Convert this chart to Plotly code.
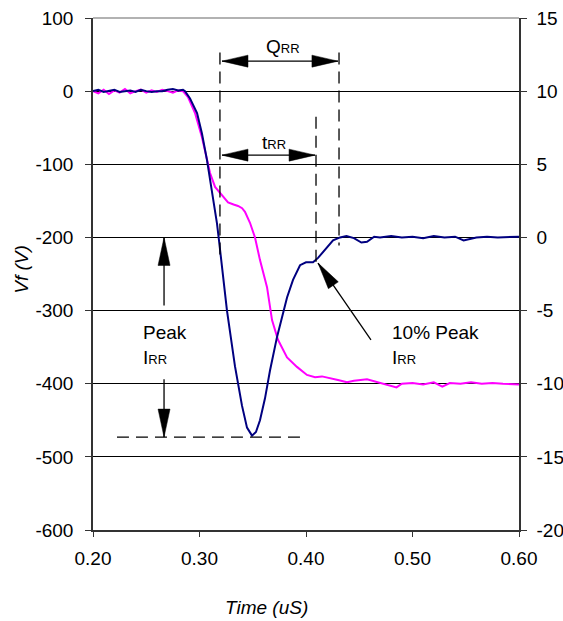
import plotly.graph_objects as go

# Reverse-recovery waveform
time_vf = [0.200, 0.205, 0.210, 0.215, 0.220, 0.225, 0.230, 0.235, 0.240, 0.245,
           0.250, 0.255, 0.260, 0.265, 0.270, 0.275, 0.280,
           0.2845, 0.2892, 0.2958, 0.3023, 0.3070, 0.3099, 0.3146, 0.3192, 0.3230, 0.3268,
           0.3320, 0.3362, 0.3400, 0.3427, 0.3474, 0.3521, 0.3568, 0.3634, 0.3681, 0.3737,
           0.3822, 0.3915, 0.4009, 0.4085, 0.4150, 0.4225, 0.4300, 0.4385, 0.4450, 0.4573,
           0.4650, 0.4789, 0.4850, 0.4900, 0.5000, 0.5100, 0.5200, 0.5280, 0.5350, 0.5450,
           0.5550, 0.5650, 0.5750, 0.5850, 0.6000]
vf = [0, -3, 2, -4, 1, -2, 3, -3, 0, 2,
      -2, 1, -1, 2, 0, -2, 1,
      0, -8, -30, -63, -94, -112, -131, -139, -146, -152,
      -155, -157, -160, -165, -180, -200, -231, -268, -313, -340,
      -364, -377, -388, -391, -390, -392, -395, -398, -396, -394,
      -397, -402, -405, -400, -399, -401, -398, -404, -399, -400,
      -398, -400, -399, -400, -401]

time_if = [0.200, 0.205, 0.210, 0.215, 0.220, 0.225, 0.230, 0.235, 0.240, 0.245,
           0.250, 0.255, 0.260, 0.265, 0.270, 0.275, 0.280,
           0.2845, 0.2864, 0.2911, 0.2977, 0.3023, 0.3070, 0.3117, 0.3164, 0.3183, 0.3258,
           0.3333, 0.3399, 0.3446, 0.3493, 0.3530, 0.3568, 0.3615, 0.3662, 0.3728, 0.3784,
           0.3822, 0.3878, 0.3944, 0.4000, 0.4066, 0.4113, 0.4160, 0.4210, 0.4254,
           0.4320, 0.4380, 0.4450, 0.4520, 0.4573, 0.4640, 0.4695, 0.4800, 0.4900, 0.5000,
           0.5100, 0.5200, 0.5300, 0.5400, 0.5480, 0.5520, 0.5600, 0.5700, 0.5800, 0.6000]
i_f = [10.0, 10.1, 9.95, 10.05, 10.1, 9.95, 10.0, 10.05, 9.95, 10.1,
       10.0, 9.95, 10.0, 10.0, 10.1, 10.15, 10.05,
       10.1, 10.0, 9.5, 8.5, 7.1, 5.3, 3.2, 0.96, -0.2, -5.0,
       -8.8, -11.5, -13.0, -13.55, -13.3, -12.5, -11.0, -9.1, -6.8, -5.1,
       -4.1, -2.9, -1.9, -1.7, -1.7, -1.4, -1.0, -0.6, -0.2,
       0.0, 0.1, -0.05, -0.35, -0.3, 0.05, 0.0, 0.1, 0.0, 0.05,
       -0.05, 0.1, 0.0, 0.05, -0.2, -0.15, 0.0, 0.05, 0.0, 0.05]

x_ticks = [0.2, 0.3, 0.4, 0.5, 0.6]
x_labels = ["0.20", "0.30", "0.40", "0.50", "0.60"]
vf_ticks = [100, 0, -100, -200, -300, -400, -500, -600]
vf_labels = ["100", "0", "-100", "-200", "-300", "-400", "-500", "-600"]
if_ticks = [15, 10, 5, 0, -5, -10, -15, -20]
if_labels = ["15", "10", "5", "0", "-5", "-10", "-15", "-20"]

FONT = "Liberation Sans, Arial, sans-serif"
FS = 19
SUB = '<span style="font-size:13px">RR</span>'

# pixel scale of the plot area, used to size the arrow heads
X0, X1, Y0, Y1 = 0.2, 0.6, -600, 100
W_PX, H_PX = 426, 512
XPX = W_PX / (X1 - X0)
YPX = H_PX / (Y1 - Y0)

fig = go.Figure()
fig.add_trace(go.Scatter(x=time_vf, y=vf, mode="lines", name="Vf",
                         line=dict(color="#ff00ff", width=2)))
fig.add_trace(go.Scatter(x=time_if, y=i_f, mode="lines", name="If", yaxis="y2",
                         line=dict(color="#000080", width=2)))


def seg(x0, y0, x1, y1, dash=None):
    fig.add_shape(type="line", x0=x0, y0=y0, x1=x1, y1=y1, xref="x", yref="y",
                  line=dict(color="black", width=1.3, dash=dash))


def head(xt, yt, ux, uy, length=26, half=6):
    # triangle with its tip at (xt, yt); (ux, uy) = pointing direction in screen px
    n = (ux ** 2 + uy ** 2) ** 0.5
    ux, uy = ux / n, uy / n
    bx, by = -ux * length, -uy * length
    pts = [(0, 0), (bx - uy * half, by + ux * half), (bx + uy * half, by - ux * half)]
    path = "M " + " L ".join(f"{xt + px / XPX},{yt - py / YPX}" for px, py in pts) + " Z"
    fig.add_shape(type="path", path=path, xref="x", yref="y",
                  fillcolor="black", line=dict(color="black", width=0.5))


DASH = "12px,7px"
# Qrr markers
seg(0.3192, 53, 0.3192, -231, DASH)
seg(0.4310, 53, 0.4310, -211, DASH)
seg(0.3211, 41, 0.4300, 41)
head(0.3211, 41, -1, 0)
head(0.4300, 41, 1, 0)
# trr markers
seg(0.4094, -35, 0.4094, -242, DASH)
seg(0.3211, -87.5, 0.4085, -87.5)
head(0.3211, -87.5, -1, 0)
head(0.4085, -87.5, 1, 0)
# peak Irr
seg(0.2225, -473, 0.3991, -473, DASH)
seg(0.2667, -293, 0.2667, -200)
head(0.2667, -200, 0, -1, length=28)
seg(0.2667, -394, 0.2667, -473)
head(0.2667, -473, 0, 1, length=28)
# 10% peak Irr
seg(0.4610, -340, 0.4113, -235)
head(0.4113, -235, -53, -77, length=27)

labels = [
    (0.3784, 61.5, "center", "Q" + SUB),
    (0.3700, -69.7, "center", "t" + SUB),
    (0.2451, -329.5, "left", "Peak"),
    (0.2451, -363.7, "left", "I" + SUB),
    (0.4789, -329.5, "left", "10% Peak"),
    (0.4789, -363.7, "left", "I" + SUB),
]
for lx, ly, anc, txt in labels:
    fig.add_annotation(x=lx, y=ly, xref="x", yref="y", text=txt, showarrow=False,
                       xanchor=anc, yanchor="middle", font=dict(size=FS, color="black"))

fig.add_annotation(x=0.408, y=-0.152, xref="paper", yref="paper", text="<i>Time (uS)</i>",
                   xanchor="center", yanchor="middle",
                   showarrow=False, font=dict(size=FS, color="black"))
fig.add_annotation(x=-0.167, y=0.51, xref="paper", yref="paper", text="<i>Vf (V)</i>",
                   xanchor="center", yanchor="middle",
                   textangle=-90, showarrow=False, font=dict(size=FS, color="black"))

# grey frame line along the top
fig.add_shape(type="line", x0=0, x1=1, y0=1, y1=1, xref="paper", yref="paper",
              line=dict(color="#999999", width=1.5))

fig.update_layout(
    width=563, height=621,
    margin=dict(l=93, r=44, t=18, b=91),
    paper_bgcolor="white", plot_bgcolor="white",
    font=dict(family=FONT, size=FS, color="black"),
    showlegend=False,
    xaxis=dict(range=[X0, X1], tickvals=x_ticks, ticktext=x_labels, showgrid=False,
               zeroline=False, showline=True, linecolor="#333333", linewidth=1.5,
               ticks="outside", ticklen=5, tickcolor="#333333", ticklabelstandoff=5,
               automargin=False),
    yaxis=dict(range=[Y0, Y1], tickvals=vf_ticks, ticktext=vf_labels, showgrid=True,
               gridcolor="black", gridwidth=1,
               zeroline=False, showline=True, linecolor="#333333", linewidth=1.5,
               ticks="outside", ticklen=6, tickcolor="#333333", ticklabelstandoff=8,
               automargin=False),
    yaxis2=dict(range=[-20, 15], tickvals=if_ticks, ticktext=if_labels, overlaying="y",
                side="right", showgrid=False,
                zeroline=False, showline=True, linecolor="#333333", linewidth=1.5,
                ticks="outside", ticklen=6, tickcolor="#333333", ticklabelstandoff=6,
                automargin=False),
)

fig.write_html("out.html", config={"displayModeBar": False},
               post_script="document.body.style.margin='0';"
                           "document.body.style.overflow='hidden';")
